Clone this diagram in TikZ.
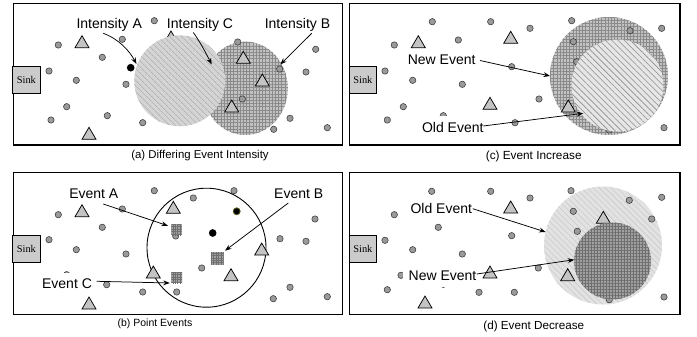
\documentclass[tikz,border=0pt]{standalone}
\usepackage{fontspec}
\setmainfont{Liberation Sans}
\newfontfamily\sinkfont{Liberation Serif}
\usetikzlibrary{arrows.meta,patterns.meta}

\definecolor{dotfill}{HTML}{9A9A9A}
\definecolor{dotline}{HTML}{3A3A3A}
\definecolor{trifill}{HTML}{C4C4C4}
\definecolor{sinkfill}{HTML}{CBCBCB}
\definecolor{gridfill}{HTML}{C2C2C2}
\definecolor{gridline}{HTML}{8A8A8A}
\definecolor{hatchfill}{HTML}{D4D4D4}
\definecolor{hatchline}{HTML}{A0A0A0}
\definecolor{brightfill}{HTML}{E6E6E6}
\definecolor{brightline}{HTML}{8E8E8E}
\definecolor{palefill}{HTML}{E2E2E2}
\definecolor{palestripe}{HTML}{CBCBCB}
\definecolor{darkfill}{HTML}{A0A0A0}
\definecolor{darkline}{HTML}{6E6E6E}
\definecolor{olivedot}{HTML}{5A5A20}

\tikzset{
  panel/.style={draw=black,line width=1.1pt},
  sink/.style={draw=black,line width=0.7pt,fill=sinkfill,minimum width=27.5pt,
    minimum height=27pt,inner sep=0pt,font=\sinkfont\fontsize{10.4}{12}\selectfont},
  sensor/.style={circle,draw=dotline,line width=0.55pt,fill=dotfill,minimum size=6.4pt,inner sep=0pt},
  blacksensor/.style={sensor,fill=black,draw=black,minimum size=7pt},
  lbl/.style={anchor=base,inner sep=0pt,font=\fontsize{14}{16}\selectfont},
  boxed/.style={lbl,fill=white,inner xsep=6pt,inner ysep=6pt},
  capt/.style={anchor=base,inner sep=0pt,font=\fontsize{#1}{14}\selectfont},
  ptr/.style={-{Stealth[length=6.5pt,width=4.8pt]},line width=0.75pt},
  gridarea/.style={fill=gridfill,postaction={pattern={Hatch[angle=0,distance=3.2pt,line width=0.45pt]},pattern color=gridline}},
  hatcharea/.style={fill=hatchfill,postaction={pattern={Lines[angle=-45,distance=4pt,line width=0.6pt]},pattern color=hatchline}},
  brighthatch/.style={fill=brightfill,postaction={pattern={Lines[angle=-45,distance=4.4pt,line width=0.6pt]},pattern color=brightline}},
  lighthatch/.style={fill=palefill,postaction={pattern={Lines[angle=-45,distance=4.2pt,line width=0.6pt]},pattern color=palestripe}},
  darkgrid/.style={fill=darkfill,postaction={pattern={Hatch[angle=0,distance=3pt,line width=0.45pt]},pattern color=darkline}},
  evsq/.style={rectangle,inner sep=0pt,minimum size=#1,fill=darkfill,
    postaction={pattern={Hatch[angle=0,distance=2.4pt,line width=0.4pt]},pattern color=darkline}},
  tri/.pic={\draw[line width=0.75pt,fill=trifill,line join=miter,pic actions] (-7,6) -- (7,6) -- (0,-6) -- cycle;}
}

\begin{document}
\begin{tikzpicture}[x=1pt,y=-1pt]
\useasboundingbox (0,0) rectangle (697,337);

% ---------- (a) Differing Event Intensity ----------
\draw[panel] (13.3,3.3) rectangle (342.7,145);
\node[sink] (sinkA) at (26.4,79.7) {Sink};
\pic at (171,37) {tri};
\fill[gridarea] (245.3,88.3) ellipse [x radius=42.5, y radius=46.7];
\fill[hatcharea] (179.7,80.8) circle [radius=45.5];
\foreach \x/\y [count=\i] in {58.3/45, 122.3/39.3, 154.3/20.7, 102.3/57.3, 49/71, 76.3/80.3,
    126/84.3, 66.7/106.7, 107.3/115.7, 51/120, 142.7/122.7, 237.7/42, 315.7/49.3, 279.7/69,
    306/72, 242.3/99, 290/118.3, 273.7/129.3, 327.3/127.7}
  \node[sensor] (a\i) at (\x,\y) {};
\node[blacksensor] (aBlack) at (130.7,67.7) {};
\foreach \x/\y in {82/41.7, 89/133.3, 243.3/57.3, 262.3/80, 231.7/106}
  \pic at (\x,\y) {tri};
\node[lbl] (labIA) at (109.2,29) {Intensity A};
\node[lbl] (labIC) at (200,29) {Intensity C};
\node[lbl] (labIB) at (297.5,29) {Intensity B};
\coordinate (tIA) at (136.5,64);
\coordinate (tIC) at (211.7,64.5);
\coordinate (tIB) at (280.3,64.5);
\draw[ptr] ([xshift=-5.9pt,yshift=-4.3pt]labIA.base) .. controls +(16,6) and +(-7,-13) .. (tIA);
\draw[ptr] ([xshift=-6.7pt,yshift=-3.5pt]labIC.base) .. controls +(6,8) and +(-5,-10) .. (tIC);
\draw[ptr] ([xshift=14.2pt,yshift=-4.3pt]labIB.base) -- (tIB);
\node[capt=11.4] (capA) at (200,158.5) {(a) Differing Event Intensity};

% ---------- (c) Event Increase ----------
\draw[panel] (349.3,3.3) rectangle (680,145);
\node[sink] (sinkC) at (362.9,79.7) {Sink};
\fill[gridarea] (609,76) circle [radius=59];
\node[sensor] (cHidden) at (443.3,115.7) {};
\node[boxed] (labNC) at (441.7,65) {New Event};
\node[boxed] (labOC) at (452.8,132.3) {Old Event};
\foreach \x/\y [count=\i] in {432.3/21.7, 490.7/21.7, 394.3/45, 458.3/40, 385/71, 412.7/80.3,
    462.3/84.3, 511.7/66.7, 403.3/106.7, 387.3/120, 515/122.7, 530/28.3, 571.7/20.7, 630/30.7,
    661.7/28.3, 573.3/41.7, 539/99, 664/127.7, 576.7/61.7, 609.3/130}
  \node[sensor] (c\i) at (\x,\y) {};
\foreach \x/\y in {418.3/41.7, 510.7/37.3, 490/103.3, 568.3/106}
  \pic at (\x,\y) {tri};
\fill[brighthatch] (617.5,85.5) circle [radius=46];
\coordinate (tNC) at (550,76);
\coordinate (tOC) at (583.3,113.3);
\draw[ptr] ([xshift=38.3pt,yshift=4.5pt]labNC.base) -- (tNC);
\draw[ptr] ([xshift=30.5pt,yshift=6.3pt]labOC.base) -- (tOC);
\node[capt=11.8] (capC) at (533.7,159.5) {(c) Event Increase};

% ---------- (b) Point Events ----------
\draw[panel] (13.3,172.5) rectangle (342.7,314.7);
\node[sink] (sinkB) at (26.4,248.8) {Sink};
\draw[line width=0.9pt] (206.5,247.7) circle [radius=59.5];
\node[sensor] (bHidden) at (66.7,274.7) {};
\node[boxed] (labEA) at (93.8,198.7) {Event A};
\node[boxed] (labEB) at (298.7,198.7) {Event B};
\node[boxed] (labEC) at (67,288.7) {Event C};
\foreach \x/\y [count=\i] in {58.3/214.7, 122.3/209, 154.3/190.7, 102.3/227.3, 49/239.7,
    76.3/249.7, 126/254, 106.7/284.7, 142.7/292, 193.3/198, 234/190.7, 315/219, 280/238.7,
    306/241.3, 201.7/268, 176.7/292, 290/287.3, 273.3/298.7, 327.3/296.7, 175.7/236}
  \node[sensor] (b\i) at (\x,\y) {};
\node[blacksensor] (bBlack1) at (212.7,233) {};
\node[blacksensor,draw=olivedot,line width=0.8pt] (bBlack2) at (236.7,211.3) {};
\foreach \x/\y in {82/210.7, 89/303, 153.3/272, 173.3/207.3, 261.7/249, 231/274.7}
  \pic at (\x,\y) {tri};
\node[evsq=10.5pt] (sqA) at (176.3,230) {};
\node[evsq=12.7pt] (sqB) at (217.3,258.3) {};
\node[evsq=11pt] (sqC) at (176.5,277.5) {};
\coordinate (tEA) at (168,225.8);
\coordinate (tEB) at (225,250.7);
\coordinate (tEC) at (169.8,283);
\draw[ptr] ([xshift=9.5pt,yshift=-5.3pt]labEA.base) -- (tEA);
\draw[ptr] ([xshift=-10.4pt,yshift=-4.3pt]labEB.base) -- (tEB);
\draw[ptr] ([xshift=29.7pt,yshift=7.4pt]labEC.base) -- (tEC);
\node[capt=10.5] (capB) at (155,326.5) {(b) Point Events};

% ---------- (d) Event Decrease ----------
\draw[panel] (349.3,172.5) rectangle (680,314.7);
\node[sink] (sinkD) at (362.9,249.3) {Sink};
\fill[lighthatch] (603,245.5) circle [radius=59];
\node[sensor] (dHidden1) at (401,275.3) {};
\node[sensor] (dHidden2) at (443.3,284.3) {};
\node[boxed] (labOD) at (441.3,213) {Old Event};
\node[boxed] (labND) at (442.5,280.7) {New Event};
\foreach \x/\y [count=\i] in {431.7/191.3, 490.7/191.3, 394.3/214.7, 438.3/227.3, 385/240.3,
    412.7/249.7, 462.3/254, 511.7/235.7, 387.3/289.7, 479/292.3, 514.3/292.3, 530/198,
    571/190.7, 629.3/200.3, 661.7/197.3, 573.3/211.3, 651.7/219, 577.3/231.3, 538.3/268,
    664/297, 609.3/299.7}
  \node[sensor] (d\i) at (\x,\y) {};
\foreach \x/\y in {510.7/207, 490/272, 425/302, 567.7/274.7}
  \pic at (\x,\y) {tri};
\pic[fill=darkfill!85!black] at (603.3,217.3) {tri};
\fill[darkgrid] (612.5,261) circle [radius=38.5];
\coordinate (tOD) at (545.7,232);
\coordinate (tND) at (574.3,259.7);
\draw[ptr] ([xshift=31.4pt,yshift=4.3pt]labOD.base) -- (tOD);
\draw[ptr] ([xshift=34.2pt,yshift=6.7pt]labND.base) -- (tND);
\node[capt=11.7] (capD) at (533.8,329.5) {(d) Event Decrease};
\end{tikzpicture}
\end{document}
